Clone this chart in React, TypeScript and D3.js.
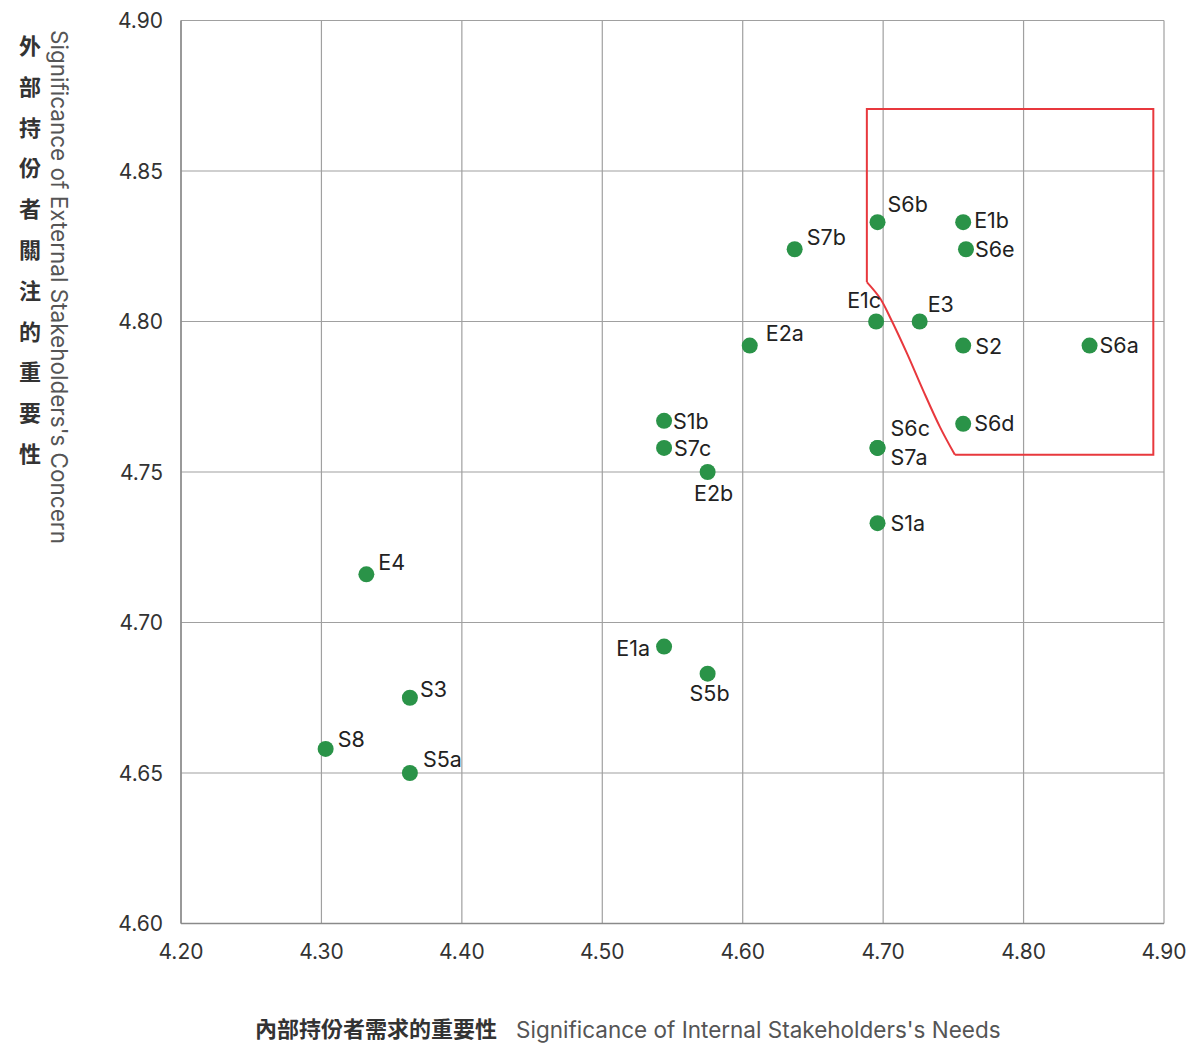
import React from "react";
import * as d3 from "d3";

const W = 1188;
const H = 1044;

// ---- data ----
const pointNames = ["S6b","E1b","S6e","S7b","E1c","E3","S2","S6a","E2a","S1b","S7c","E2b","S6d","S6c","S7a","S1a","E4","E1a","S5b","S3","S8","S5a"];
const internalNeeds = [4.696,4.757,4.759,4.637,4.695,4.726,4.757,4.847,4.605,4.544,4.544,4.575,4.757,4.696,4.696,4.696,4.332,4.544,4.575,4.363,4.303,4.363];
const externalConcern = [4.833,4.833,4.824,4.824,4.800,4.800,4.792,4.792,4.792,4.767,4.758,4.750,4.766,4.758,4.758,4.733,4.716,4.692,4.683,4.675,4.658,4.650];

const xTicks = [4.2,4.3,4.4,4.5,4.6,4.7,4.8,4.9];
const yTicks = [4.6,4.65,4.7,4.75,4.8,4.85,4.9];

// priority region (data units)
const regionFrame: [number, number][] = [[4.6884,4.8131],[4.6884,4.8706],[4.8924,4.8706],[4.8924,4.7557],[4.7511,4.7557]];
const regionCurve: [number, number][] = [[4.7511,4.7557],[4.7404,4.765],[4.7283,4.7773],[4.7169,4.7895],[4.7048,4.8015],[4.6977,4.8078],[4.6884,4.8131]];

const yTitleZh = "外部持份者關注的重要性";
const yTitleEn = "Significance of External Stakeholders's Concern";
const xTitleZh = "內部持份者需求的重要性";
const xTitleEn = "Significance of Internal Stakeholders's Needs";

// label placement (style)
const labelPos: Record<string, [number, number, string]> = {
  S6b: [10, -18, "start"], E1b: [11, -2, "start"], S6e: [9, 0, "start"], S7b: [12, -12, "start"],
  E1c: [5, -22, "end"], E3: [8, -18, "start"], S2: [12, 0, "start"], S6a: [10, -1, "start"],
  E2a: [16, -13, "start"], S1b: [9, 0, "start"], S7c: [10, 0, "start"], E2b: [6, 21, "middle"],
  S6d: [11, -1, "start"], S6c: [13, -20, "start"], S7a: [13, 9, "start"], S1a: [13, 0, "start"],
  E4: [12, -12, "start"], E1a: [-14, 1, "end"], S5b: [2, 19, "middle"], S3: [10, -9, "start"],
  S8: [12, -10, "start"], S5a: [13, -14, "start"],
};

const FONT = "Inter, 'Noto Sans', sans-serif";
const CJK = "'Noto Sans CJK TC', 'Noto Sans CJK SC', sans-serif";

export default function App() {
  const x = d3.scaleLinear().domain([4.2, 4.9]).range([181, 1164]);
  const y = d3.scaleLinear().domain([4.6, 4.9]).range([923.5, 20.5]);
  const line = d3.line<[number, number]>().x((d) => x(d[0])).y((d) => y(d[1]));
  const curve = d3.line<[number, number]>().x((d) => x(d[0])).y((d) => y(d[1])).curve(d3.curveCatmullRom.alpha(0.5));

  const pts = pointNames.map((n, i) => ({ n, vx: internalNeeds[i], vy: externalConcern[i] }));

  return (
    <svg width={W} height={H} style={{ position: "absolute", left: 0, top: 0, background: "#fff" }}>
      {/* grid */}
      <g stroke="#a0a0a0" strokeWidth={1.2}>
        {xTicks.map((t) => (
          <line key={"gx" + t} x1={x(t)} x2={x(t)} y1={y(4.9)} y2={y(4.6)} />
        ))}
        {yTicks.map((t) => (
          <line key={"gy" + t} x1={x(4.2)} x2={x(4.9)} y1={y(t)} y2={y(t)} />
        ))}
      </g>
      <g stroke="#8a8a8a" strokeWidth={1.5}>
        <line x1={x(4.2)} x2={x(4.2)} y1={y(4.9)} y2={y(4.6)} />
        <line x1={x(4.2)} x2={x(4.9)} y1={y(4.6)} y2={y(4.6)} />
      </g>
      {/* tick labels */}
      <g fontFamily={FONT} fontSize={21} fill="#333">
        {yTicks.map((t) => (
          <text key={"ty" + t} x={163} y={y(t)} textAnchor="end" dominantBaseline="central">
            {d3.format(".2f")(t)}
          </text>
        ))}
        {xTicks.map((t) => (
          <text key={"tx" + t} x={x(t)} y={951} textAnchor="middle" dominantBaseline="central">
            {d3.format(".2f")(t)}
          </text>
        ))}
      </g>
      {/* region */}
      <g fill="none" stroke="#e8383d" strokeWidth={2}>
        <path d={line(regionFrame) || ""} />
        <path d={curve(regionCurve) || ""} />
      </g>
      {/* points */}
      <g fill="#2a9348">
        {pts.map((p) => (
          <circle key={"c" + p.n} cx={x(p.vx)} cy={y(p.vy)} r={8} />
        ))}
      </g>
      <g fontFamily={FONT} fontSize={21.5} fill="#222">
        {pts.map((p) => {
          const lp = labelPos[p.n];
          return (
            <text key={"l" + p.n} x={x(p.vx) + lp[0]} y={y(p.vy) + lp[1]} textAnchor={lp[2] as any} dominantBaseline="central">
              {p.n}
            </text>
          );
        })}
      </g>
      {/* y title */}
      <g fontFamily={CJK} fontWeight={700} fontSize={22} fill="#333">
        {Array.from(yTitleZh).map((c, i) => (
          <text key={"yz" + i} x={30} y={44 + i * 40.8} textAnchor="middle" dominantBaseline="central">
            {c}
          </text>
        ))}
      </g>
      <text
        transform="translate(51,30) rotate(90)"
        fontFamily={FONT}
        fontSize={22.5}
        fill="#555"
        textAnchor="start"
      >
        {yTitleEn}
      </text>
      {/* x title */}
      <text x={255} y={1037} fontFamily={CJK} fontWeight={700} fontSize={22} fill="#333">
        {xTitleZh}
      </text>
      <text x={516} y={1038} fontFamily={FONT} fontSize={22.5} fill="#555">
        {xTitleEn}
      </text>
    </svg>
  );
}
